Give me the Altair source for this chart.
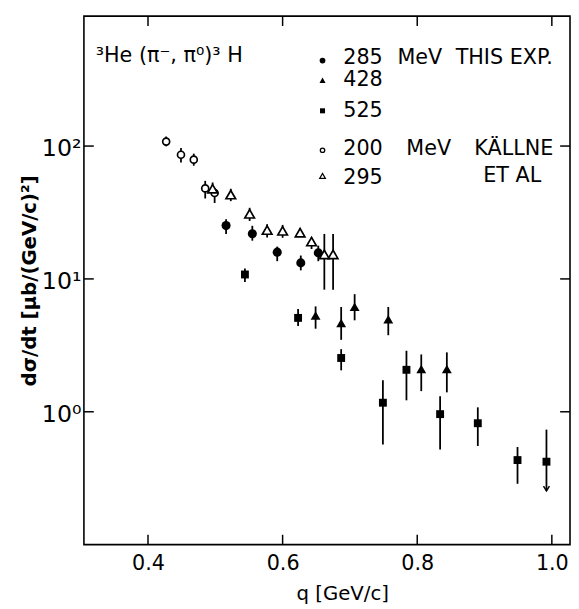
import altair as alt
import pandas as pd

# ---- data ----
q_285 = [0.516, 0.555, 0.592, 0.627, 0.653]
v_285 = [25.2, 21.9, 15.9, 13.2, 15.7]
lo_285 = [21.8, 19.4, 13.6, 11.6, 13.6]
hi_285 = [28.1, 25.1, 17.5, 15.0, 17.8]

q_428 = [0.649, 0.687, 0.707, 0.757, 0.806, 0.844]
v_428 = [5.30, 4.66, 6.18, 4.98, 2.10, 2.10]
lo_428 = [4.22, 3.48, 4.88, 3.77, 1.43, 1.40]
hi_428 = [6.21, 6.15, 7.68, 6.15, 2.70, 2.80]

q_525 = [0.544, 0.623, 0.687, 0.749, 0.784, 0.834, 0.890, 0.949, 0.992]
v_525 = [10.8, 5.09, 2.54, 1.17, 2.07, 0.96, 0.82, 0.433, 0.421]
lo_525 = [9.5, 4.42, 2.05, 0.567, 1.22, 0.521, 0.553, 0.287, 0.254]
hi_525 = [12.0, 5.94, 2.96, 1.73, 2.88, 1.31, 1.08, 0.543, 0.734]

q_200 = [0.427, 0.449, 0.468, 0.485, 0.499]
v_200 = [108.0, 86.0, 79.0, 48.0, 44.3]
lo_200 = [99.5, 75.2, 71.1, 40.3, 37.3]
hi_200 = [118.0, 96.6, 87.7, 54.7, 48.2]

q_295 = [0.496, 0.523, 0.551, 0.577, 0.600, 0.626, 0.643, 0.662, 0.675]
v_295 = [47.7, 43.1, 30.9, 23.3, 23.0, 22.3, 19.1, 15.3, 15.3]
lo_295 = [42.5, 38.5, 27.3, 20.5, 20.4, 20.8, 16.8, 8.3, 8.3]
hi_295 = [53.2, 47.7, 34.3, 25.8, 25.5, 24.2, 20.5, 21.8, 21.8]

# upper-limit point (last 525 MeV point)
limit_q = [0.992]
limit_v = [0.254]

x_ticks = [0.4, 0.6, 0.8, 1.0]
y_ticks = [1, 10, 100]

series = {
    "285": (q_285, v_285, lo_285, hi_285),
    "428": (q_428, v_428, lo_428, hi_428),
    "525": (q_525, v_525, lo_525, hi_525),
    "200": (q_200, v_200, lo_200, hi_200),
    "295": (q_295, v_295, lo_295, hi_295),
}
rows = []
for name, (qs, vs, los, his) in series.items():
    for q, v, lo, hi in zip(qs, vs, los, his):
        rows.append({"series": name, "q": q, "v": v, "lo": lo, "hi": hi})
df = pd.DataFrame(rows)

W, H = 493, 536
FONT = "DejaVu Sans"

xscale = alt.Scale(domain=[0.3048, 1.027], zero=False, nice=False)
yscale = alt.Scale(type="log", domain=[0.1, 950], nice=False)

xaxis = alt.Axis(values=x_ticks, format=".1f", ticks=False, tickSize=0, domain=False,
                 grid=False, labelFont=FONT, labelFontSize=21, labelPadding=8,
                 labelColor="black", title="q  [GeV/c]", titleFont=FONT,
                 titleFontSize=20, titleFontWeight="normal", titleColor="black",
                 titleX=262, titleY=56, titleBaseline="alphabetic", titleAlign="center")
yaxis = alt.Axis(values=y_ticks,
                 labelExpr="datum.value >= 100 ? '10²' : (datum.value >= 10 ? '10¹' : '10⁰')",
                 ticks=False, tickSize=0, domain=False, grid=False, labelFont=FONT,
                 labelFontSize=24, labelPadding=3, labelBaseline="middle", labelOffset=3,
                 labelColor="black", title="dσ/dt  [μb/(GeV/c)²]", titleFont=FONT,
                 titleFontSize=20, titleFontWeight="bold", titleColor="black",
                 titleAngle=270, titleX=-55, titleY=268, titleBaseline="middle",
                 titleAlign="center")

X = alt.X("q:Q", scale=xscale, axis=xaxis)
Y = alt.Y("v:Q", scale=yscale, axis=yaxis)

base = alt.Chart(df)

bars = base.mark_rule(color="black", strokeWidth=1.8).encode(
    x=X, y=alt.Y("lo:Q", scale=yscale, axis=yaxis), y2="hi:Q")

def pts(name, shape, filled, size):
    return base.transform_filter(alt.datum.series == name).mark_point(
        shape=shape, filled=True, size=size,
        fill="black" if filled else "white", stroke="black",
        strokeWidth=0 if filled else 1.7, opacity=1).encode(x=X, y=Y)

p285 = pts("285", "circle", True, 85)
p428 = pts("428", "triangle-up", True, 100)
p525 = pts("525", "square", True, 64)
p200 = pts("200", "circle", False, 50)
p295 = pts("295", "triangle-up", False, 95)

lim_df = pd.DataFrame({"q": limit_q, "v": limit_v})
arrow = alt.Chart(lim_df).mark_point(shape="M-1,-1.6L0,0L1,-1.6", filled=False,
                                     stroke="black", strokeWidth=1.5, size=36,
                                     opacity=1).encode(x=X, y=Y)

# inward tick marks on all four sides
yt = alt.Chart(pd.DataFrame({"v": y_ticks}))
xt = alt.Chart(pd.DataFrame({"q": x_ticks}))
tick_style = dict(color="black", strokeWidth=1.5)
yt_left = yt.mark_rule(**tick_style).encode(y=Y, x=alt.value(0), x2=alt.value(10))
yt_right = yt.mark_rule(**tick_style).encode(y=Y, x=alt.value(W - 10), x2=alt.value(W))
xt_bot = xt.mark_rule(**tick_style).encode(x=X, y=alt.value(H), y2=alt.value(H - 10))
xt_top = xt.mark_rule(**tick_style).encode(x=X, y=alt.value(0), y2=alt.value(10))

# legend / annotations (pixel positions inside the plot)
leg_mark = pd.DataFrame({
    "px": [242, 242, 242, 242, 242],
    "py": [45, 65, 96, 136, 162],
    "name": ["285", "428", "525", "200", "295"],
})
def legsym(name, shape, filled, size):
    return alt.Chart(leg_mark).transform_filter(alt.datum.name == name).mark_point(
        shape=shape, filled=True, size=size, fill="black" if filled else "white",
        stroke="black", strokeWidth=0 if filled else 1.3, opacity=1).encode(
        x=alt.X("px:Q", scale=None), y=alt.Y("py:Q", scale=None))

l1 = legsym("285", "circle", True, 34)
l2 = legsym("428", "triangle-up", True, 38)
l3 = legsym("525", "square", True, 26)
l4 = legsym("200", "circle", False, 20)
l5 = legsym("295", "triangle-up", False, 32)

texts = pd.DataFrame({
    "px": [263, 318, 377, 263, 263, 263, 327, 396, 263, 405],
    "py": [43, 43, 43, 65, 96, 135, 135, 135, 164, 162],
    "label": ["285", "MeV", "THIS EXP.", "428", "525", "200", "MeV", "KÄLLNE",
              "295", "ET AL"],
})
legtext = alt.Chart(texts).mark_text(align="left", baseline="middle", font=FONT,
                                     fontSize=21, color="black").encode(
    x=alt.X("px:Q", scale=None), y=alt.Y("py:Q", scale=None), text="label:N")

reaction = alt.Chart(pd.DataFrame({"t": ["³He (π⁻, π⁰)³ H"]})).mark_text(
    align="left", baseline="middle", font=FONT, fontSize=21, color="black").encode(
    x=alt.value(12), y=alt.value(41), text="t:N")

chart = alt.layer(
    bars, p285, p428, p525, p200, p295, arrow,
    yt_left, yt_right, xt_bot, xt_top,
    l1, l2, l3, l4, l5, legtext, reaction,
).properties(
    width=W, height=H,
    padding={"left": 77, "top": 4, "right": 1, "bottom": 61},
    autosize=alt.AutoSizeParams(type="none"),
    background="white",
).configure_view(stroke="black", strokeWidth=1.6)

chart.save("out.html", embed_options={"renderer": "svg", "actions": False})
